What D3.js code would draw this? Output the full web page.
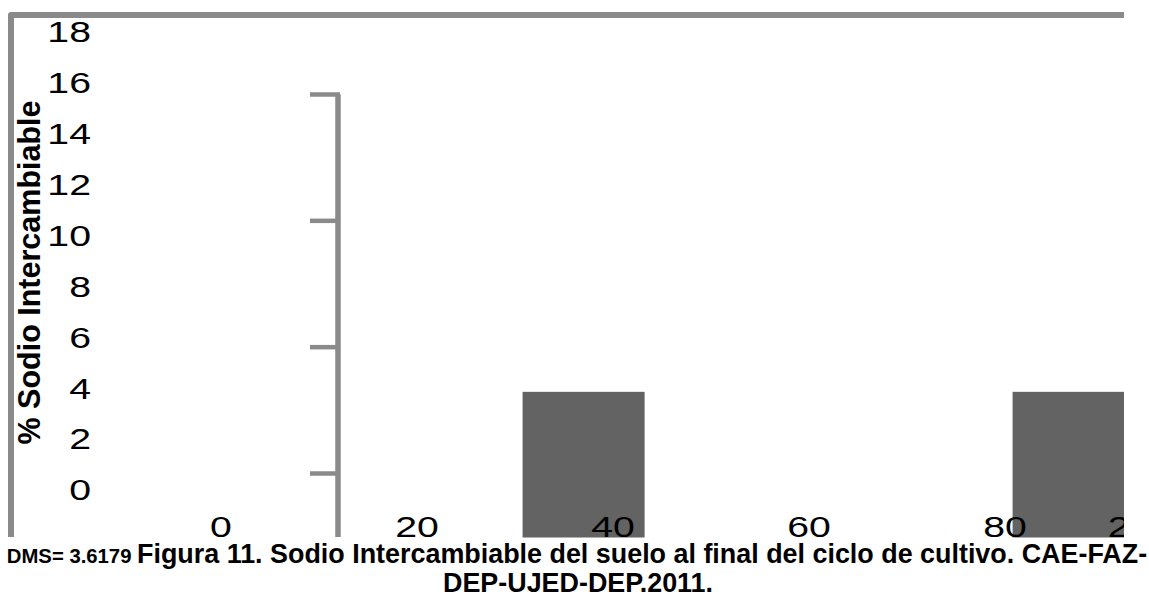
<!DOCTYPE html>
<html>
<head>
<meta charset="utf-8">
<script src="https://cdn.jsdelivr.net/npm/d3@7"></script>
<style>
  body { margin: 0; padding: 0; background: #fff; }
  svg { display: block; }
  text { font-family: "Liberation Sans", Arial, sans-serif; }
</style>
</head>
<body>
<script>
// values
var yTicks = [0, 2, 4, 6, 8, 10, 12, 14, 16, 18];
var xTickValues = [0, 20, 40, 60, 80, 91.6];
var xTickLabels = ["0", "20", "40", "60", "80", "2"];
var barX = [37, 87];
var barValues = [3.85, 3.85];
var bracketTicks = [0, 1, 2, 3];
var yTitle = "% Sodio Intercambiable";
var dmsText = "DMS= 3.6179 ";
var captionLine1 = "Figura 11. Sodio Intercambiable del suelo al final del ciclo de cultivo. CAE-FAZ-";
var captionLine2 = "DEP-UJED-DEP.2011.";

var W = 1149, H = 595;
var gray = "#8a8a8a";

var svg = d3.select("body").append("svg")
  .attr("width", W)
  .attr("height", H);

svg.append("defs").append("clipPath").attr("id", "plotclip")
  .append("rect").attr("x", 0).attr("y", 0).attr("width", 1124).attr("height", 540);

var x = d3.scaleLinear().domain([0, 20]).range([221, 417]);
var y = d3.scaleLinear().domain([-1.87, 18]).range([537.5, 31.5]);
var barW = x(12.45) - x(0);

var plot = svg.append("g").attr("clip-path", "url(#plotclip)");

// frame (left + top)
plot.append("path")
  .attr("d", "M11,537 V15 H1124")
  .attr("fill", "none")
  .attr("stroke", gray)
  .attr("stroke-width", 6)
  .attr("stroke-linejoin", "round");

// bracket axis
var yb = d3.scaleLinear().domain([0, 3]).range([473.5, 94.5]);
plot.append("line")
  .attr("x1", 338).attr("x2", 338)
  .attr("y1", yb(3)).attr("y2", 537)
  .attr("stroke", gray).attr("stroke-width", 5.5);
plot.selectAll("line.btick").data(bracketTicks).enter().append("line")
  .attr("class", "btick")
  .attr("x1", 310).attr("x2", 340)
  .attr("y1", function (d) { return yb(d); })
  .attr("y2", function (d) { return yb(d); })
  .attr("stroke", gray).attr("stroke-width", 4.5);

// bars
plot.selectAll("rect.bar").data(barValues).enter().append("rect")
  .attr("class", "bar")
  .attr("x", function (d, i) { return x(barX[i]) - barW / 2; })
  .attr("y", function (d) { return y(d); })
  .attr("width", barW)
  .attr("height", function (d) { return y.range()[0] - y(d); })
  .attr("fill", "#636363");

// y tick labels
plot.selectAll("text.ytick").data(yTicks).enter().append("text")
  .attr("class", "ytick")
  .attr("transform", function (d) { return "translate(91," + (y(d) + 10.5) + ") scale(1.33,1)"; })
  .attr("text-anchor", "end")
  .attr("font-size", 29.5)
  .attr("fill", "#000")
  .text(function (d) { return d; });

// x tick labels
plot.selectAll("text.xtick").data(xTickValues).enter().append("text")
  .attr("class", "xtick")
  .attr("transform", function (d) { return "translate(" + x(d) + ",537) scale(1.33,1)"; })
  .attr("text-anchor", "middle")
  .attr("font-size", 29.5)
  .attr("fill", "#000")
  .text(function (d, i) { return xTickLabels[i]; });

// y title
svg.append("text")
  .attr("transform", "translate(39.5,272.5) rotate(-90)")
  .attr("text-anchor", "middle")
  .attr("font-size", 30.5)
  .attr("font-weight", "bold")
  .attr("fill", "#000")
  .text(yTitle);

// caption
var cap = svg.append("text")
  .attr("x", 577).attr("y", 562.5)
  .attr("text-anchor", "middle")
  .attr("font-weight", "bold")
  .attr("fill", "#000");
cap.append("tspan").attr("font-size", 20.3).text(dmsText);
cap.append("tspan").attr("font-size", 26.9).text(captionLine1);

svg.append("text")
  .attr("x", 578).attr("y", 591.5)
  .attr("text-anchor", "middle")
  .attr("font-weight", "bold")
  .attr("font-size", 26.9)
  .attr("fill", "#000")
  .text(captionLine2);
</script>
</body>
</html>
